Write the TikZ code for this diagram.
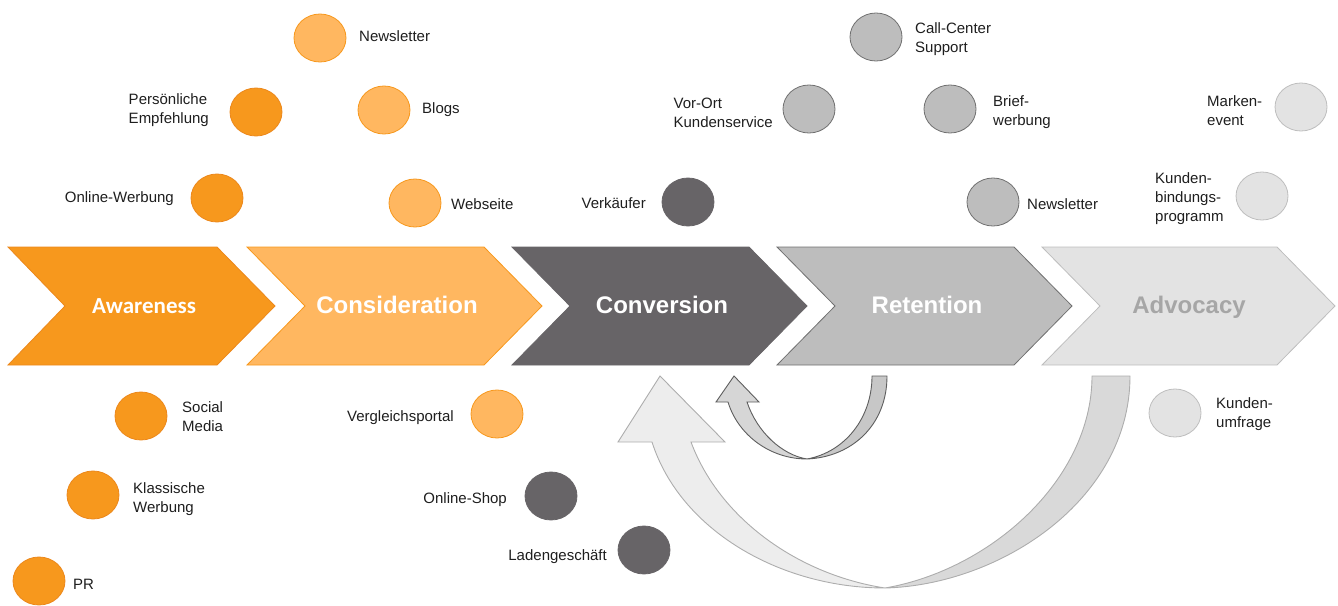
\documentclass[tikz,border=0pt]{standalone}
\usepackage{fontspec}
\setmainfont{Liberation Sans}
\newfontfamily\stagefont{Carlito}
\usetikzlibrary{shapes.geometric}

\definecolor{awfill}{HTML}{F7981D}
\definecolor{awdraw}{HTML}{EC881C}
\definecolor{cofill}{HTML}{FFB760}
\definecolor{cvfill}{HTML}{676467}
\definecolor{rtfill}{HTML}{BDBDBD}
\definecolor{rtdraw}{HTML}{707070}
\definecolor{adfill}{HTML}{E3E3E3}
\definecolor{addraw}{HTML}{BEBEBE}
\definecolor{adtext}{HTML}{A6A6A6}
\definecolor{txt}{HTML}{1E1E1E}

\tikzset{
  dot/.style={ellipse,minimum width=52pt,minimum height=48pt,inner sep=0pt,line width=0.8pt},
  lbl/.style={font=\fontsize{15}{19}\selectfont,text=txt,inner sep=0pt,align=left,text depth=0pt},
  stagelbl/.style={font=\fontsize{24}{28}\selectfont\bfseries,text=white,inner sep=0pt,text depth=0pt},
}

\begin{document}
\begin{tikzpicture}[x=1pt,y=-1pt,line join=miter]
\useasboundingbox (0,0) rectangle (1338,605);

% the five stages
\filldraw[fill=awfill,draw=awdraw,line width=0.8pt] (8,247) -- (217,247) -- (275,306) -- (217,365) -- (8,365) -- (65,306) -- cycle;
\filldraw[fill=cofill,draw=awfill,line width=0.8pt] (247,247) -- (484,247) -- (542,306) -- (484,365) -- (247,365) -- (305,306) -- cycle;
\filldraw[fill=cvfill,draw=cvfill,line width=0.8pt] (512,247) -- (749,247) -- (807,306) -- (749,365) -- (512,365) -- (570,306) -- cycle;
\filldraw[fill=rtfill,draw=rtdraw,line width=0.8pt] (777,247) -- (1014,247) -- (1072,306) -- (1014,365) -- (777,365) -- (835,306) -- cycle;
\filldraw[fill=adfill,draw=addraw,line width=0.8pt] (1042,247) -- (1277,247) -- (1335,306) -- (1277,365) -- (1042,365) -- (1100,306) -- cycle;

\node[stagelbl,font=\fontsize{23}{28}\stagefont\bfseries] (aware) at (144,306) {Awareness};
\node[stagelbl] (consid) at (397,305) {Consideration};
\node[stagelbl] (conv) at (662,305) {Conversion};
\node[stagelbl] (retent) at (927,305) {Retention};
\node[stagelbl,text=adtext] (advoc) at (1189,305) {Advocacy};

% awareness channels
\node[dot,fill=awfill,draw=awdraw] (pe) at (256,112) {};
\node[lbl,anchor=east] (pelbl) at (209,109) {Persönliche\\Empfehlung};
\node[dot,fill=awfill,draw=awdraw] (ow) at (217,198) {};
\node[lbl,anchor=east] (owlbl) at (174,197) {Online-Werbung};
\node[dot,fill=awfill,draw=awdraw] (sm) at (141,416) {};
\node[lbl,anchor=west] (smlbl) at (182,417) {Social\\Media};
\node[dot,fill=awfill,draw=awdraw] (kw) at (93,495) {};
\node[lbl,anchor=west] (kwlbl) at (133,498) {Klassische\\Werbung};
\node[dot,fill=awfill,draw=awdraw] (pr) at (39,581) {};
\node[lbl,anchor=west] (prlbl) at (73,584) {PR};

% consideration channels
\node[dot,fill=cofill,draw=awfill] (nl) at (320,38) {};
\node[lbl,anchor=west] (nllbl) at (359,36) {Newsletter};
\node[dot,fill=cofill,draw=awfill] (bl) at (384,110) {};
\node[lbl,anchor=west] (bllbl) at (422,108) {Blogs};
\node[dot,fill=cofill,draw=awfill] (ws) at (415,203) {};
\node[lbl,anchor=west] (wslbl) at (451,204) {Webseite};
\node[dot,fill=cofill,draw=awfill] (vp) at (497,414) {};
\node[lbl,anchor=east] (vplbl) at (454,416) {Vergleichsportal};

% conversion channels
\node[dot,fill=cvfill,draw=cvfill] (vk) at (688,202) {};
\node[lbl,anchor=east] (vklbl) at (646,203) {Verkäufer};
\node[dot,fill=cvfill,draw=cvfill] (os) at (551,496) {};
\node[lbl,anchor=east] (oslbl) at (507,498) {Online-Shop};
\node[dot,fill=cvfill,draw=cvfill] (lg) at (644,550) {};
\node[lbl,anchor=east] (lglbl) at (607,555) {Ladengeschäft};

% retention channels
\node[dot,fill=rtfill,draw=rtdraw] (cc) at (876,37) {};
\node[lbl,anchor=west] (cclbl) at (915,38) {Call-Center\\Support};
\node[dot,fill=rtfill,draw=rtdraw] (vo) at (809,109) {};
\node[lbl,anchor=east] (volbl) at (773,113) {Vor-Ort\\Kundenservice};
\node[dot,fill=rtfill,draw=rtdraw] (bw) at (950,109) {};
\node[lbl,anchor=west] (bwlbl) at (993,111) {Brief-\\werbung};
\node[dot,fill=rtfill,draw=rtdraw] (rn) at (993,202) {};
\node[lbl,anchor=west] (rnlbl) at (1027,204) {Newsletter};

% advocacy channels
\node[dot,fill=adfill,draw=addraw] (me) at (1301,107) {};
\node[lbl,anchor=west] (melbl) at (1207,111) {Marken-\\event};
\node[dot,fill=adfill,draw=addraw] (kb) at (1262,196) {};
\node[lbl,anchor=west] (kblbl) at (1155,197) {Kunden-\\bindungs-\\programm};
\node[dot,fill=adfill,draw=addraw] (ku) at (1175,413) {};
\node[lbl,anchor=west] (kulbl) at (1216,413) {Kunden-\\umfrage};

% small u-turn: retention back to conversion
\filldraw[fill=black!16,draw=black!63,line width=0.9pt]
  (807,459) .. controls (770,459) and (738,435) .. (728,402) -- (716,402) -- (734,376)
  -- (759,402) -- (747,402) .. controls (757,432) and (782,455) .. (807,459) -- cycle;
\filldraw[fill=black!22,draw=black!63,line width=0.9pt]
  (807,459) .. controls (852,457) and (887,425) .. (887,376) -- (872,376)
  .. controls (872,418) and (845,452) .. (807,459) -- cycle;

% big u-turn: advocacy back to conversion
\filldraw[fill=black!7,draw=black!32,line width=0.9pt]
  (885,588) .. controls (780,588) and (680,530) .. (652,442) -- (618,442) -- (660,376)
  -- (725,442) -- (691,442) .. controls (720,520) and (800,575) .. (885,588) -- cycle;
\filldraw[fill=black!15,draw=black!32,line width=0.9pt]
  (885,588) .. controls (1000,585) and (1130,500) .. (1130,376) -- (1092,376)
  .. controls (1092,480) and (990,570) .. (885,588) -- cycle;
\end{tikzpicture}
\end{document}
